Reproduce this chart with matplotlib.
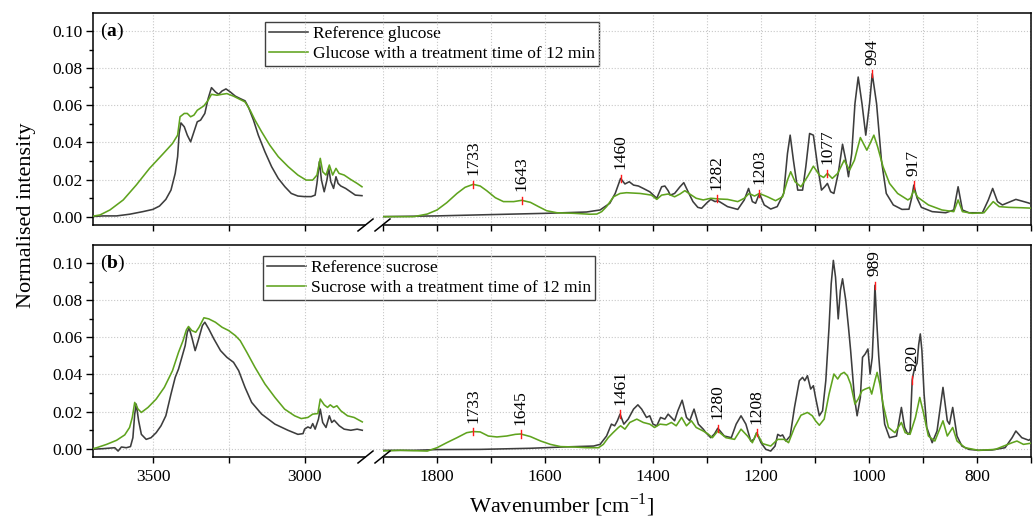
import numpy as np
import matplotlib
matplotlib.use('Agg')
import matplotlib.pyplot as plt
from matplotlib.ticker import MultipleLocator, FormatStrFormatter
from matplotlib.lines import Line2D

plt.rcParams['font.family'] = 'Liberation Serif'
plt.rcParams['mathtext.fontset'] = 'custom'
plt.rcParams['mathtext.rm'] = 'Liberation Serif'
plt.rcParams['mathtext.bf'] = 'Liberation Serif:bold'
plt.rcParams['font.size'] = 12.5

# (wavenumber, normalised intensity)
# O-H / C-H region
glc_ref_hi = [(3710, 0.0000), (3666, 0.0004), (3622, 0.0004), (3579, 0.0013), (3535, 0.0027),
              (3502, 0.0039), (3480, 0.0057), (3459, 0.0093), (3442, 0.0143), (3428, 0.0233),
              (3420, 0.0323), (3415, 0.0448), (3409, 0.0505), (3398, 0.0484), (3388, 0.0439),
              (3377, 0.0403), (3366, 0.0457), (3355, 0.0511), (3344, 0.0520), (3330, 0.0556),
              (3319, 0.0636), (3308, 0.0695), (3295, 0.0672), (3284, 0.0659), (3273, 0.0677),
              (3260, 0.0688), (3246, 0.0672), (3229, 0.0649), (3213, 0.0636), (3197, 0.0624),
              (3186, 0.0591), (3169, 0.0520), (3153, 0.0439), (3131, 0.0349), (3109, 0.0269),
              (3087, 0.0206), (3065, 0.0161), (3044, 0.0125), (3022, 0.0111), (3000, 0.0108),
              (2978, 0.0108), (2965, 0.0116), (2959, 0.0179), (2951, 0.0296), (2944, 0.0197),
              (2935, 0.0134), (2926, 0.0197), (2920, 0.0260), (2913, 0.0188), (2904, 0.0152),
              (2896, 0.0215), (2889, 0.0179), (2880, 0.0165), (2864, 0.0152), (2848, 0.0134),
              (2832, 0.0116), (2810, 0.0113)]
glc_trt_hi = [(3710, 0.0000), (3677, 0.0009), (3644, 0.0036), (3600, 0.0090), (3557, 0.0170),
              (3513, 0.0260), (3469, 0.0337), (3437, 0.0394), (3420, 0.0439), (3412, 0.0538),
              (3398, 0.0556), (3388, 0.0556), (3377, 0.0538), (3366, 0.0547), (3355, 0.0573),
              (3333, 0.0597), (3319, 0.0627), (3308, 0.0659), (3290, 0.0654), (3273, 0.0659),
              (3257, 0.0663), (3235, 0.0649), (3213, 0.0631), (3197, 0.0618), (3180, 0.0573),
              (3164, 0.0520), (3142, 0.0457), (3115, 0.0385), (3087, 0.0323), (3054, 0.0269),
              (3022, 0.0224), (2995, 0.0197), (2973, 0.0197), (2959, 0.0224), (2948, 0.0314),
              (2940, 0.0242), (2929, 0.0224), (2918, 0.0278), (2907, 0.0224), (2896, 0.0260),
              (2886, 0.0233), (2869, 0.0224), (2848, 0.0201), (2826, 0.0179), (2810, 0.0161)]
suc_ref_hi = [(3710, -0.0004), (3666, 0.0000), (3628, 0.0005), (3617, -0.0013), (3606, 0.0009),
              (3590, 0.0005), (3576, 0.0011), (3568, 0.0059), (3562, 0.0186), (3557, 0.0240),
              (3549, 0.0150), (3540, 0.0077), (3524, 0.0050), (3508, 0.0059), (3491, 0.0086),
              (3475, 0.0123), (3459, 0.0177), (3442, 0.0294), (3428, 0.0384), (3417, 0.0429),
              (3406, 0.0492), (3395, 0.0555), (3388, 0.0627), (3382, 0.0650), (3373, 0.0600),
              (3362, 0.0528), (3352, 0.0582), (3338, 0.0663), (3330, 0.0681), (3317, 0.0645),
              (3300, 0.0591), (3278, 0.0528), (3257, 0.0492), (3235, 0.0465), (3218, 0.0420),
              (3197, 0.0330), (3175, 0.0249), (3142, 0.0186), (3098, 0.0132), (3055, 0.0099),
              (3022, 0.0077), (3005, 0.0081), (3000, 0.0105), (2989, 0.0117), (2980, 0.0110),
              (2973, 0.0135), (2965, 0.0105), (2954, 0.0159), (2948, 0.0213), (2940, 0.0141),
              (2929, 0.0114), (2918, 0.0177), (2910, 0.0141), (2902, 0.0153), (2885, 0.0123),
              (2869, 0.0105), (2847, 0.0099), (2826, 0.0105), (2809, 0.0099)]
suc_trt_hi = [(3710, -0.0004), (3688, 0.0005), (3655, 0.0023), (3622, 0.0045), (3595, 0.0074),
              (3579, 0.0114), (3570, 0.0168), (3562, 0.0249), (3551, 0.0213), (3540, 0.0195),
              (3518, 0.0222), (3491, 0.0267), (3464, 0.0330), (3437, 0.0420), (3417, 0.0519),
              (3402, 0.0582), (3391, 0.0640), (3384, 0.0658), (3373, 0.0636), (3360, 0.0627),
              (3349, 0.0654), (3333, 0.0705), (3317, 0.0699), (3295, 0.0681), (3273, 0.0654),
              (3251, 0.0636), (3229, 0.0609), (3213, 0.0582), (3191, 0.0519), (3164, 0.0438),
              (3131, 0.0348), (3098, 0.0276), (3066, 0.0213), (3033, 0.0177), (3011, 0.0162),
              (2989, 0.0168), (2973, 0.0186), (2956, 0.0189), (2948, 0.0267), (2935, 0.0236),
              (2924, 0.0222), (2915, 0.0236), (2904, 0.0222), (2893, 0.0231), (2880, 0.0204),
              (2858, 0.0177), (2836, 0.0168), (2809, 0.0144)]

# fingerprint region
glc_ref_lo = [(1905, 0.0000), (1800, 0.0004), (1700, 0.0011), (1597, 0.0018), (1523, 0.0025),
              (1498, 0.0036), (1480, 0.0072), (1470, 0.0125), (1460, 0.0206), (1452, 0.0176),
              (1444, 0.0188), (1436, 0.0170), (1427, 0.0165), (1418, 0.0152), (1406, 0.0134),
              (1393, 0.0099), (1384, 0.0161), (1378, 0.0165), (1372, 0.0140), (1368, 0.0116),
              (1360, 0.0125), (1350, 0.0161), (1343, 0.0183), (1335, 0.0134), (1326, 0.0081),
              (1317, 0.0050), (1310, 0.0045), (1300, 0.0075), (1293, 0.0093), (1285, 0.0081),
              (1280, 0.0086), (1272, 0.0072), (1262, 0.0054), (1243, 0.0039), (1231, 0.0090),
              (1223, 0.0152), (1216, 0.0081), (1210, 0.0072), (1203, 0.0125), (1194, 0.0063),
              (1182, 0.0041), (1170, 0.0054), (1158, 0.0125), (1151, 0.0340), (1146, 0.0439),
              (1140, 0.0304), (1132, 0.0143), (1123, 0.0143), (1117, 0.0269), (1110, 0.0448),
              (1103, 0.0439), (1095, 0.0269), (1088, 0.0143), (1082, 0.0161), (1077, 0.0179),
              (1071, 0.0134), (1065, 0.0125), (1057, 0.0233), (1049, 0.0390), (1043, 0.0304),
              (1038, 0.0215), (1032, 0.0340), (1026, 0.0609), (1020, 0.0752), (1013, 0.0609),
              (1006, 0.0439), (999, 0.0609), (994, 0.0770), (986, 0.0609), (977, 0.0304),
              (968, 0.0125), (955, 0.0063), (939, 0.0039), (926, 0.0040), (921, 0.0100),
              (917, 0.0170), (911, 0.0100), (903, 0.0050), (883, 0.0027), (858, 0.0021),
              (843, 0.0036), (835, 0.0161), (827, 0.0036), (815, 0.0021), (790, 0.0021),
              (779, 0.0090), (771, 0.0152), (762, 0.0081), (753, 0.0063), (728, 0.0093),
              (706, 0.0075), (694, 0.0063)]
glc_trt_lo = [(1905, 0.0000), (1843, 0.0000), (1818, 0.0014), (1800, 0.0036), (1782, 0.0075),
              (1763, 0.0125), (1748, 0.0158), (1733, 0.0174), (1720, 0.0165), (1708, 0.0140),
              (1692, 0.0102), (1677, 0.0081), (1658, 0.0081), (1643, 0.0088), (1627, 0.0077),
              (1612, 0.0054), (1597, 0.0032), (1578, 0.0021), (1547, 0.0018), (1517, 0.0013),
              (1504, 0.0014), (1495, 0.0027), (1486, 0.0054), (1473, 0.0107), (1461, 0.0125),
              (1449, 0.0129), (1424, 0.0125), (1412, 0.0120), (1403, 0.0116), (1393, 0.0093),
              (1384, 0.0116), (1372, 0.0122), (1360, 0.0107), (1350, 0.0122), (1341, 0.0140),
              (1332, 0.0122), (1320, 0.0099), (1307, 0.0090), (1293, 0.0099), (1277, 0.0095),
              (1262, 0.0093), (1243, 0.0081), (1231, 0.0099), (1222, 0.0125), (1212, 0.0111),
              (1203, 0.0125), (1188, 0.0107), (1173, 0.0086), (1160, 0.0107), (1151, 0.0197),
              (1145, 0.0242), (1137, 0.0188), (1126, 0.0161), (1114, 0.0215), (1103, 0.0272),
              (1092, 0.0224), (1084, 0.0211), (1077, 0.0233), (1068, 0.0206), (1058, 0.0233),
              (1046, 0.0304), (1036, 0.0251), (1027, 0.0304), (1016, 0.0426), (1004, 0.0358),
              (998, 0.0394), (991, 0.0439), (984, 0.0376), (974, 0.0269), (962, 0.0179),
              (947, 0.0125), (928, 0.0090), (923, 0.0100), (917, 0.0143), (910, 0.0105),
              (890, 0.0063), (865, 0.0036), (843, 0.0027), (835, 0.0090), (827, 0.0027),
              (809, 0.0018), (787, 0.0021), (778, 0.0054), (770, 0.0081), (759, 0.0054),
              (741, 0.0050), (717, 0.0048), (694, 0.0045)]
suc_ref_lo = [(1905, -0.0009), (1843, -0.0009), (1800, -0.0005), (1720, -0.0004), (1627, 0.0002),
              (1566, 0.0009), (1510, 0.0014), (1498, 0.0023), (1486, 0.0068), (1477, 0.0132),
              (1471, 0.0123), (1466, 0.0150), (1461, 0.0186), (1454, 0.0132), (1446, 0.0159),
              (1436, 0.0213), (1428, 0.0236), (1421, 0.0213), (1412, 0.0168), (1406, 0.0177),
              (1400, 0.0132), (1393, 0.0123), (1386, 0.0168), (1378, 0.0159), (1372, 0.0186),
              (1366, 0.0168), (1360, 0.0150), (1354, 0.0204), (1346, 0.0261), (1338, 0.0168),
              (1332, 0.0150), (1324, 0.0213), (1316, 0.0132), (1307, 0.0105), (1302, 0.0086),
              (1293, 0.0059), (1286, 0.0080), (1280, 0.0110), (1268, 0.0068), (1255, 0.0059),
              (1246, 0.0132), (1237, 0.0177), (1228, 0.0132), (1219, 0.0041), (1213, 0.0050),
              (1208, 0.0086), (1200, 0.0032), (1191, -0.0004), (1182, -0.0013), (1174, 0.0014),
              (1169, 0.0077), (1164, 0.0068), (1160, 0.0074), (1154, 0.0041), (1146, 0.0068),
              (1138, 0.0222), (1129, 0.0366), (1123, 0.0384), (1119, 0.0366), (1114, 0.0393),
              (1108, 0.0321), (1103, 0.0339), (1099, 0.0276), (1092, 0.0177), (1086, 0.0204),
              (1080, 0.0366), (1074, 0.0654), (1070, 0.0888), (1066, 0.1014), (1062, 0.0924),
              (1057, 0.0699), (1053, 0.0852), (1049, 0.0915), (1043, 0.0798), (1038, 0.0654),
              (1034, 0.0528), (1027, 0.0276), (1022, 0.0177), (1016, 0.0276), (1012, 0.0492),
              (1007, 0.0510), (1002, 0.0537), (998, 0.0402), (994, 0.0492), (991, 0.0700),
              (989, 0.0880), (986, 0.0700), (982, 0.0500), (977, 0.0312), (971, 0.0132),
              (962, 0.0059), (949, 0.0068), (940, 0.0222), (934, 0.0114), (928, 0.0077),
              (924, 0.0090), (920, 0.0370), (916, 0.0430), (911, 0.0460), (908, 0.0560),
              (905, 0.0618), (902, 0.0528), (898, 0.0294), (893, 0.0114), (883, 0.0032),
              (874, 0.0095), (863, 0.0330), (855, 0.0150), (851, 0.0132), (845, 0.0222),
              (837, 0.0068), (828, 0.0014), (815, -0.0004), (797, -0.0009), (772, -0.0007),
              (748, 0.0005), (735, 0.0059), (728, 0.0095), (717, 0.0059), (704, 0.0045),
              (694, 0.0068)]
suc_trt_lo = [(1905, -0.0013), (1868, -0.0009), (1818, -0.0013), (1800, 0.0005), (1782, 0.0032),
              (1763, 0.0059), (1745, 0.0086), (1733, 0.0092), (1720, 0.0090), (1705, 0.0068),
              (1689, 0.0063), (1671, 0.0068), (1655, 0.0077), (1645, 0.0079), (1627, 0.0065),
              (1608, 0.0041), (1590, 0.0023), (1571, 0.0011), (1547, 0.0009), (1523, 0.0005),
              (1501, 0.0005), (1492, 0.0023), (1483, 0.0059), (1474, 0.0086), (1464, 0.0114),
              (1460, 0.0123), (1452, 0.0105), (1443, 0.0141), (1430, 0.0159), (1418, 0.0141),
              (1406, 0.0132), (1397, 0.0114), (1387, 0.0132), (1375, 0.0128), (1366, 0.0141),
              (1357, 0.0123), (1347, 0.0168), (1338, 0.0123), (1329, 0.0150), (1320, 0.0114),
              (1307, 0.0095), (1299, 0.0081), (1290, 0.0059), (1280, 0.0095), (1265, 0.0059),
              (1249, 0.0050), (1237, 0.0105), (1225, 0.0068), (1216, 0.0032), (1208, 0.0086),
              (1197, 0.0027), (1182, 0.0014), (1169, 0.0050), (1157, 0.0050), (1149, 0.0032),
              (1138, 0.0114), (1126, 0.0180), (1114, 0.0195), (1105, 0.0177), (1099, 0.0150),
              (1092, 0.0126), (1083, 0.0159), (1074, 0.0294), (1065, 0.0402), (1058, 0.0375),
              (1052, 0.0402), (1046, 0.0411), (1040, 0.0393), (1034, 0.0348), (1026, 0.0240),
              (1020, 0.0267), (1013, 0.0312), (1007, 0.0321), (999, 0.0330), (995, 0.0294),
              (989, 0.0366), (985, 0.0411), (980, 0.0348), (974, 0.0240), (964, 0.0114),
              (952, 0.0086), (940, 0.0141), (933, 0.0086), (924, 0.0077), (914, 0.0168),
              (906, 0.0276), (900, 0.0204), (890, 0.0068), (878, 0.0041), (863, 0.0150),
              (855, 0.0068), (845, 0.0114), (837, 0.0041), (822, 0.0005), (797, -0.0009),
              (766, -0.0004), (735, 0.0032), (726, 0.0041), (714, 0.0023), (694, 0.0032)]

glc_peaks = [1733, 1643, 1460, 1282, 1203, 1077, 994, 917]
suc_peaks = [1733, 1645, 1461, 1280, 1208, 989, 920]

glc_labels = ['Reference glucose', 'Glucose with a treatment time of 12 min']
suc_labels = ['Reference sucrose', 'Sucrose with a treatment time of 12 min']

REF_COLOR = '#3d3d3d'
TRT_COLOR = '#5fa31e'
GRID_COLOR = '#c8c8c8'

W, H = 1035, 517


def box(x0, y0, x1, y1):
    # pixel box (top-left origin) -> figure fraction rect
    return [x0 / W, 1 - y1 / H, (x1 - x0) / W, (y1 - y0) / H]


def height_at(p, *curves):
    vals = []
    for c in curves:
        a = np.array(c)[::-1]
        vals.append(np.interp(p, a[:, 0], a[:, 1]))
    return max(vals)


def draw_panel(fig, top, bottom, tag, hi, lo, peaks, labels, legend_xy, show_xlabels):
    ylim = (-0.0045, 0.1097)

    # frame: box, y axis and horizontal grid
    bg = fig.add_axes(box(93, top, 1031, bottom))
    bg.set_xlim(0, 1)
    bg.set_ylim(*ylim)
    bg.set_xticks([])
    bg.spines['bottom'].set_visible(False)
    for s in ['left', 'top', 'right']:
        bg.spines[s].set_linewidth(1.1)
    bg.yaxis.set_major_locator(MultipleLocator(0.02))
    bg.yaxis.set_minor_locator(MultipleLocator(0.01))
    bg.yaxis.set_major_formatter(FormatStrFormatter('%.2f'))
    bg.tick_params(axis='y', which='major', direction='out', length=5, width=1, pad=2.5)
    bg.tick_params(axis='y', which='minor', direction='out', length=3, width=1)
    bg.grid(axis='y', which='major', color=GRID_COLOR, ls=':', lw=0.8)
    bg.set_axisbelow(True)

    # two x segments of the broken axis
    ax_l = fig.add_axes(box(93, top, 365, bottom))
    ax_r = fig.add_axes(box(383, top, 1031, bottom))
    ax_l.set_xlim(3700, 2800)
    ax_r.set_xlim(1900, 700)
    ax_l.xaxis.set_major_locator(MultipleLocator(500))
    ax_l.xaxis.set_minor_locator(MultipleLocator(250))
    ax_r.xaxis.set_major_locator(MultipleLocator(200))
    ax_r.xaxis.set_minor_locator(MultipleLocator(100))
    for ax in (ax_l, ax_r):
        ax.set_ylim(*ylim)
        ax.patch.set_visible(False)
        ax.yaxis.set_visible(False)
        for s in ['left', 'top', 'right']:
            ax.spines[s].set_visible(False)
        ax.spines['bottom'].set_linewidth(1.1)
        ax.tick_params(axis='x', which='both', direction='out', length=4.5, width=1,
                       pad=4, labelbottom=show_xlabels)
        ax.grid(axis='x', which='both', color=GRID_COLOR, ls=':', lw=0.8)

    ref_hi, trt_hi = np.array(hi[0]), np.array(hi[1])
    ref_lo, trt_lo = np.array(lo[0]), np.array(lo[1])
    ax_l.plot(ref_hi[:, 0], ref_hi[:, 1], color=REF_COLOR, lw=1.15)
    ax_l.plot(trt_hi[:, 0], trt_hi[:, 1], color=TRT_COLOR, lw=1.15)
    ax_r.plot(ref_lo[:, 0], ref_lo[:, 1], color=REF_COLOR, lw=1.15)
    ax_r.plot(trt_lo[:, 0], trt_lo[:, 1], color=TRT_COLOR, lw=1.15)

    # peak markers, drawn over the spectra
    for p in peaks:
        h = height_at(p, lo[0], lo[1])
        ax_r.plot([p, p], [h - 0.002, h + 0.002], color='#ff1a1a', lw=1.0, zorder=5)
        ax_r.annotate(str(p), (p, h), xytext=(0, 6.5), textcoords='offset points',
                      rotation=90, ha='center', va='bottom', fontsize=12.5, zorder=6)

    # break marks on the bottom axis
    for xb in (365.5, 382.5):
        fig.add_artist(Line2D([(xb - 7.5) / W, (xb + 7.5) / W],
                              [1 - (bottom + 6) / H, 1 - (bottom - 6) / H],
                              color='black', lw=1.1))

    fig.text(100 / W, 1 - (top + 18) / H, '(' + r'$\mathbf{' + tag + '}$' + ')',
             ha='left', va='center', fontsize=14)

    handles = [Line2D([], [], color=REF_COLOR, lw=1.15), Line2D([], [], color=TRT_COLOR, lw=1.15)]
    leg = bg.legend(handles, labels, loc='upper left',
                    bbox_to_anchor=(legend_xy[0] / W, 1 - legend_xy[1] / H),
                    bbox_transform=fig.transFigure, borderaxespad=0, borderpad=0.25,
                    handlelength=2.2, handletextpad=0.3, labelspacing=0.2,
                    fancybox=False, framealpha=1, edgecolor='#404040', fontsize=12.5)
    leg.get_frame().set_linewidth(1.0)


fig = plt.figure(figsize=(W / 100, H / 100), dpi=100)

draw_panel(fig, 13, 225, 'a', (glc_ref_hi, glc_trt_hi), (glc_ref_lo, glc_trt_lo),
           glc_peaks, glc_labels, (265, 22), False)
draw_panel(fig, 245, 457, 'b', (suc_ref_hi, suc_trt_hi), (suc_ref_lo, suc_trt_lo),
           suc_peaks, suc_labels, (263, 256), True)

fig.text(27 / W, 1 - 215 / H, 'Normalised intensity', rotation=90,
         ha='center', va='center', fontsize=16)
fig.text(562 / W, 1 - 505 / H, 'Wavenumber [cm$^{-1}$]', ha='center', va='center', fontsize=16)

fig.savefig('out.png', dpi=100)
